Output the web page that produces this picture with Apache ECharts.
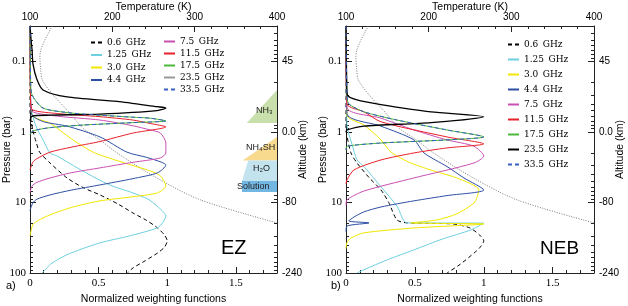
<!DOCTYPE html>
<html><head><meta charset="utf-8">
<script src="https://cdn.jsdelivr.net/npm/echarts@6/dist/echarts.min.js"></script>
<style>html,body{margin:0;padding:0;background:#fff}#c{width:628px;height:306px}</style>
</head><body><div id="c"></div>
<script>
// ---------- categories ----------
const freqNames = ['0.6 GHz','1.25 GHz','3.0 GHz','4.4 GHz','7.5 GHz','11.5 GHz','17.5 GHz','23.5 GHz','33.5 GHz'];
const freqColors = ['#000000','#6dcfe0','#f2e600','#2c4fa3','#c94fb3','#e8202a','#4cb83a','#000000','#3a5fc0'];
const freqDash = ['dashed','solid','solid','solid','solid','solid','solid','solid','dashed'];

// ---------- tick labels ----------
const pressTicks = [0.1, 1, 10, 100];
const pressLabels = ['0.1','1','10','100'];
const altLabels = ['45','0.0','-80','-240'];
const wfTicks = [0, 0.5, 1, 1.5];
const wfLabels = ['0','0.5','1','1.5'];

// ---------- EZ weighting functions [value, pressure(bar)] ----------
const ez_0p6 = [[0,0.0316],[0,0.5],[0.02,0.94],[0.045,1.4],[0.07,1.94],[0.146,2.76],[0.27,4.5],[0.39,6.2],[0.51,7.83],[0.64,10.5],[0.75,14.1],[0.85,18],[0.93,23],[0.98,29],[1.0,35],[0.98,43],[0.93,52],[0.84,67],[0.75,85],[0.71,100]];
const ez_1p25 = [[0,0.0316],[0.005,0.4],[0.01,0.49],[0.04,0.8],[0.095,1.3],[0.146,1.99],[0.197,2.2],[0.386,3.6],[0.58,5.65],[0.75,7.33],[0.86,9],[0.926,11.3],[0.99,15.5],[0.97,19],[0.926,23],[0.72,30],[0.51,37.4],[0.27,55],[0.15,75],[0.09,100]];
const ez_3p0 = [[0,0.0316],[0.005,0.45],[0.02,0.6],[0.08,0.68],[0.146,0.75],[0.3,1.25],[0.46,1.94],[0.62,2.5],[0.75,3.0],[0.88,3.6],[0.95,4.2],[0.99,5.84],[0.93,7.3],[0.75,8.3],[0.51,9.5],[0.3,11.8],[0.146,15],[0.06,18],[0.02,20.8],[0,30]];
const ez_4p4 = [[0,0.0316],[0.005,0.4],[0.015,0.58],[0.1,0.72],[0.27,0.83],[0.51,1.18],[0.707,1.94],[0.85,2.3],[0.96,2.7],[0.99,2.94],[0.93,3.8],[0.75,4.6],[0.51,5.65],[0.3,6.7],[0.146,7.83],[0.05,9],[0.02,10.2],[0,13]];
const ez_7p5 = [[0,0.0316],[0.005,0.4],[0.02,0.52],[0.2,0.6],[0.51,0.68],[0.75,0.82],[0.875,0.94],[0.95,1.04],[0.99,1.44],[0.99,1.99],[0.95,2.34],[0.75,2.7],[0.51,3.24],[0.3,3.8],[0.146,4.5],[0.05,5.2],[0.015,5.84],[0,7.3]];
const ez_11p5 = [[0,0.0316],[0.005,0.38],[0.02,0.49],[0.2,0.55],[0.51,0.61],[0.75,0.68],[0.875,0.76],[0.99,0.85],[0.75,1.04],[0.51,1.37],[0.3,1.65],[0.146,1.94],[0.05,2.4],[0.02,2.7],[0,3.46]];
const ez_17p5 = [[0,0.0316],[0.005,0.2],[0.015,0.3],[0.095,0.46],[0.3,0.54],[0.51,0.58],[0.75,0.62],[0.875,0.64],[0.99,0.70],[0.75,0.74],[0.39,0.8],[0.15,0.87],[0.02,0.97],[0,1.1]];
const ez_23p5 = [[0,0.0316],[0.008,0.05],[0.015,0.069],[0.022,0.11],[0.05,0.18],[0.095,0.255],[0.27,0.32],[0.634,0.37],[0.926,0.44],[0.99,0.458],[0.926,0.5],[0.51,0.56],[0.146,0.58],[0.015,0.6],[0,0.7]];
const ez_33p5 = [[0,0.0316],[0.005,0.2],[0.015,0.3],[0.095,0.46],[0.3,0.54],[0.51,0.58],[0.75,0.62],[0.875,0.64],[0.99,0.70],[0.75,0.74],[0.39,0.8],[0.15,0.87],[0.02,0.97],[0,1.1]];
const ez_temp = [[127,0.0316],[118,0.05],[113,0.07],[112,0.087],[113,0.13],[115,0.184],[128,0.3],[145,0.49],[165,0.9],[185,1.3],[206,2.0],[254,4.5],[307,9.2],[400,19.5]];

// ---------- NEB weighting functions [value, pressure(bar)] ----------
const neb_0p6 = [[0,0.0316],[0,0.9],[0.003,1.04],[0.036,1.99],[0.08,2.76],[0.17,4.5],[0.254,6.65],[0.31,10],[0.37,17.7],[0.443,19.5],[0.6,19.8],[0.78,20.2],[0.9,23],[0.97,29],[1.0,35],[0.97,44],[0.93,52],[0.83,75],[0.733,100]];
const neb_1p25 = [[0,0.0316],[0.007,0.8],[0.044,1.5],[0.08,2.5],[0.13,3.1],[0.254,6],[0.37,11.3],[0.443,19.5],[1.0,19.7],[0.907,24.5],[0.7,33],[0.493,47],[0.3,65],[0.13,90],[0.08,100]];
const neb_3p0 = [[0,0.0316],[0.007,0.58],[0.13,0.8],[0.254,1.3],[0.327,1.94],[0.47,2.76],[0.66,3.7],[0.805,4.5],[0.965,6.65],[0.95,8.5],[0.929,10.2],[0.805,14.5],[0.66,17.7],[0.47,19.5],[1.0,20.2],[0.493,23],[0.13,27],[0.036,32],[0.007,37],[0,45]];
const neb_4p4 = [[0,0.0316],[0.007,0.55],[0.254,0.83],[0.493,1.3],[0.566,1.99],[0.733,3.1],[0.856,4.5],[1.0,6.65],[0.733,8.0],[0.493,9.5],[0.254,11.6],[0.13,13.6],[0.058,16.1],[0.02,18.3],[0.167,19.5],[0.007,21.6],[0,26]];
const neb_7p5 = [[0,0.0316],[0.007,0.45],[0.254,0.64],[0.493,0.94],[0.733,1.3],[0.929,1.6],[1.0,2.2],[0.929,2.76],[0.493,4.5],[0.13,6.9],[0.007,9.2],[0,11]];
const neb_11p5 = [[0,0.0316],[0.007,0.4],[0.13,0.52],[0.254,0.72],[0.733,1.18],[1.0,1.48],[0.733,1.69],[0.493,1.99],[0.254,2.5],[0.058,3.46],[0.007,4.8],[0,5.5]];
const neb_17p5 = [[0,0.0316],[0.007,0.3],[0.02,0.4],[0.13,0.52],[0.37,0.68],[0.733,0.94],[1.0,1.18],[0.733,1.30],[0.254,1.44],[0.007,1.6],[0,1.8]];
const neb_23p5 = [[0,0.0316],[0.005,0.2],[0.01,0.3],[0.08,0.353],[0.254,0.41],[0.617,0.52],[1.0,0.61],[0.617,0.74],[0.13,0.83],[0.007,0.94],[0,1.0]];
const neb_33p5 = [[0,0.0316],[0.007,0.3],[0.02,0.4],[0.13,0.52],[0.37,0.68],[0.733,0.94],[1.0,1.18],[0.733,1.30],[0.254,1.44],[0.007,1.6],[0,1.8]];
const neb_temp = [[127,0.0316],[118,0.05],[113,0.07],[112,0.087],[113,0.13],[115,0.184],[128,0.3],[145,0.49],[165,0.9],[185,1.3],[206,2.0],[254,4.5],[307,9.2],[400,19.5]];

// ---------- cloud layers (EZ panel) [value, pressure] ----------
const cloudNames = ['NH3','NH4SH','H2O','Solution'];
const cloudColors = ['#c9e0ad','#f7da8e','#c3e3ee','#72b6e2'];
const cloud_nh3 = [[1.8,0.255],[1.58,0.75],[1.8,0.75]];
const cloud_nh4sh = [[1.8,1.18],[1.55,2.55],[1.8,2.55]];
const cloud_h2o = [[1.59,2.55],[1.545,4.95],[1.8,4.95],[1.8,2.55]];
const cloud_sol = [[1.545,4.95],[1.545,7.1],[1.8,7.1],[1.8,4.95]];

const panels = [
  {data:[ez_0p6,ez_1p25,ez_3p0,ez_4p4,ez_7p5,ez_11p5,ez_17p5,ez_23p5,ez_33p5], temp: ez_temp},
  {data:[neb_0p6,neb_1p25,neb_3p0,neb_4p4,neb_7p5,neb_11p5,neb_17p5,neb_23p5,neb_33p5], temp: neb_temp}
];
const clouds = [cloud_nh3, cloud_nh4sh, cloud_h2o, cloud_sol];

const lg = Math.log10;
const AX = '#222';
const SANS = 'Liberation Sans';
const SERIF = 'Liberation Serif';
const minorP = [];
for (let d = -2; d <= 1; d++) for (let k = 2; k <= 9; k++) { const v = d + lg(k); if (v > -1.5 && v < 2) minorP.push(v); }
const minorW = [];
for (let i = 1; i < 18; i++) if (i % 5) minorW.push(i / 10);

const grids = [
  {left: 30, top: 26, width: 247, height: 247, containLabel: false, outerBoundsMode: 'none'},
  {left: 346, top: 26, width: 248, height: 247, containLabel: false, outerBoundsMode: 'none'}
];
const nameStyle = {fontFamily: SANS, fontSize: 10.5, color: '#000'};
const xAxes = [], yAxes = [], series = [];
grids.forEach((g, gi) => {
  xAxes.push({gridIndex: gi, type: 'value', min: 0, max: 1.8, position: 'bottom',
    axisLine: {show: true, onZero: false, lineStyle: {color: AX}},
    axisTick: {inside: true, length: 6, customValues: wfTicks, lineStyle: {color: AX}},
    axisLabel: {customValues: wfTicks, formatter: v => wfLabels[wfTicks.indexOf(+(+v).toFixed(2))] ?? '', color: '#000', fontFamily: SERIF, fontSize: 11, margin: 5},
    splitLine: {show: false},
    name: 'Normalized weighting functions', nameLocation: 'middle', nameGap: 20, nameTextStyle: nameStyle});
  xAxes.push({gridIndex: gi, type: 'value', min: 0, max: 1.8, position: 'bottom',
    axisLine: {show: false, onZero: false}, axisLabel: {show: false}, splitLine: {show: false},
    axisTick: {inside: true, length: 3, customValues: minorW, lineStyle: {color: AX}}});
  xAxes.push({gridIndex: gi, type: 'value', min: 100, max: 400, interval: 100, position: 'top',
    axisLine: {show: true, onZero: false, lineStyle: {color: AX}},
    axisTick: {inside: true, length: 6, lineStyle: {color: AX}},
    minorTick: {show: true, splitNumber: 5, length: 3, lineStyle: {color: AX}},
    axisLabel: {color: '#000', fontFamily: SANS, fontSize: 10, margin: 4},
    splitLine: {show: false},
    name: 'Temperature (K)', nameLocation: 'middle', nameGap: 13, nameMoveOverlap: false, nameTextStyle: nameStyle});
  const yBase = {gridIndex: gi, type: 'value', min: -1.5, max: 2, inverse: true, splitLine: {show: false}};
  yAxes.push(Object.assign({}, yBase, {position: 'left',
    axisLine: {show: true, onZero: false, lineStyle: {color: AX}},
    axisTick: {inside: true, length: 6, customValues: pressTicks.map(lg), lineStyle: {color: AX}},
    axisLabel: {customValues: pressTicks.map(lg), formatter: v => pressLabels[Math.round(v) + 1], color: '#000', fontFamily: SERIF, fontSize: 11, margin: 4},
    name: 'Pressure (bar)', nameLocation: 'middle', nameGap: 17, nameRotate: 90, nameMoveOverlap: false, nameTextStyle: nameStyle}));
  yAxes.push(Object.assign({}, yBase, {position: 'left', axisLine: {show: false, onZero: false}, axisLabel: {show: false},
    axisTick: {inside: true, length: 3, customValues: minorP, lineStyle: {color: AX}}}));
  yAxes.push(Object.assign({}, yBase, {position: 'right',
    axisLine: {show: true, onZero: false, lineStyle: {color: AX}},
    axisTick: {inside: true, length: 6, customValues: pressTicks.map(lg), lineStyle: {color: AX}},
    axisLabel: {customValues: pressTicks.map(lg), formatter: v => altLabels[Math.round(v) + 1], color: '#000', fontFamily: SANS, fontSize: 10, margin: 5},
    name: 'Altitude (km)', nameLocation: 'middle', nameGap: 21, nameRotate: 90, nameMoveOverlap: false, nameTextStyle: nameStyle}));
  yAxes.push(Object.assign({}, yBase, {position: 'right', axisLine: {show: false, onZero: false}, axisLabel: {show: false},
    axisTick: {inside: true, length: 3, customValues: minorP, lineStyle: {color: AX}}}));

  const P = panels[gi];
  series.push({type: 'line', name: 'Temperature', xAxisIndex: gi * 3 + 2, yAxisIndex: gi * 4,
    data: P.temp.map(([t, p]) => [t, lg(p)]), showSymbol: false, symbol: 'none', smooth: 0.3,
    lineStyle: {color: '#7a7a7a', width: 1, type: [1, 1.5]}, z: 2, silent: true});
  freqNames.forEach((n, i) => {
    series.push({type: 'line', name: n, xAxisIndex: gi * 3, yAxisIndex: gi * 4,
      data: P.data[i].map(([v, p]) => [v, lg(p)]), showSymbol: false, symbol: 'none', smooth: 0.25,
      lineStyle: {color: freqColors[i], width: i === 7 ? 1.3 : 1, type: freqDash[i] === 'dashed' ? [4, 3] : 'solid'},
      itemStyle: {color: freqColors[i]}, z: 3 + i, silent: true});
  });
});
series.push({type: 'custom', xAxisIndex: 0, yAxisIndex: 0, silent: true, z: 1, clip: false,
  data: clouds.map((c, i) => [c[0][0], lg(c[0][1]), i]),
  renderItem: (params, api) => {
    const c = clouds[params.dataIndex];
    return {type: 'polygon', shape: {points: c.map(([v, p]) => api.coord([v, lg(p)]))},
      style: {fill: cloudColors[params.dataIndex]}};
  }});

const legText = {fontFamily: 'DejaVu Serif', fontSize: 9, color: '#000'};
const legFmt = n => n.replace(' ', '\u2002');
const legBase = {orient: 'vertical', itemWidth: 11, itemHeight: 8, padding: 0, selectedMode: false, textStyle: legText, formatter: legFmt, itemGap: 3.5, itemStyle: {opacity: 0}};
const option = {
  animation: false,
  backgroundColor: '#fff',
  grid: grids,
  xAxis: xAxes,
  yAxis: yAxes,
  legend: [
    Object.assign({}, legBase, {left: 90, top: 38, data: freqNames.slice(0, 4)}),
    Object.assign({}, legBase, {left: 163, top: 37, itemGap: 3, data: freqNames.slice(4).map(n => n === '23.5 GHz' ? {name: n, lineStyle: {color: '#999', width: 2}} : n)}),
    Object.assign({}, legBase, {left: 507, top: 40, itemGap: 6, data: freqNames})
  ],
  graphic: [
    {type: 'text', left: 6, top: 280, style: {text: 'a)', font: '11px ' + SANS, fill: '#000'}},
    {type: 'text', left: 331, top: 280, style: {text: 'b)', font: '11px ' + SANS, fill: '#000'}},
    {type: 'text', left: 221, top: 238, style: {text: 'EZ', font: '20px ' + SANS, fill: '#000'}},
    {type: 'text', left: 540, top: 239, style: {text: 'NEB', font: '19px ' + SANS, fill: '#000'}},
    {type: 'text', left: 256, top: 106, z: 50, style: {text: 'NH\u2083', font: '9px ' + SANS, fill: '#222'}},
    {type: 'text', left: 246, top: 143, z: 50, style: {text: 'NH\u2084SH', font: '9px ' + SANS, fill: '#222'}},
    {type: 'text', left: 253, top: 164, z: 50, style: {text: 'H\u2082O', font: '9px ' + SANS, fill: '#222'}},
    {type: 'text', left: 237, top: 182, z: 50, style: {text: 'Solution', font: '9px ' + SANS, fill: '#222'}}
  ],
  series: series
};
const chart = echarts.init(document.getElementById('c'), null, {renderer: 'canvas'});
chart.setOption(option);
</script></body></html>
